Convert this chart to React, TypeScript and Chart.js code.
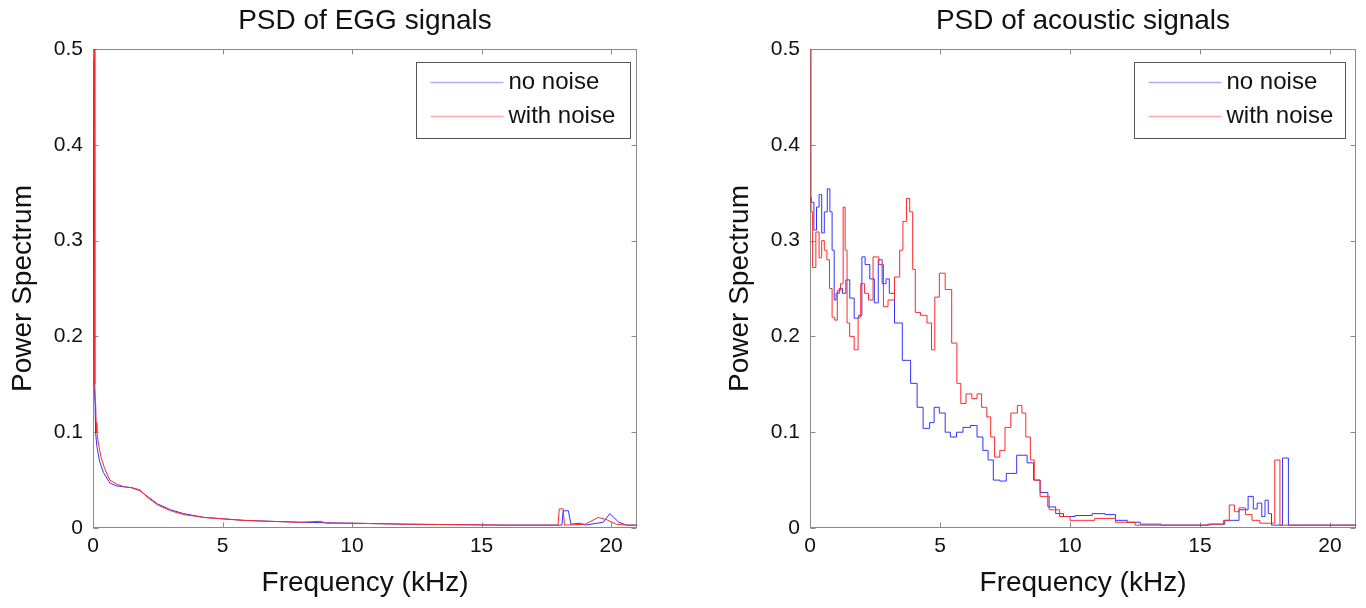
import React, { useEffect, useRef } from 'react';
import { Chart, registerables } from 'chart.js';

Chart.register(...registerables);

const FONT = '"Liberation Sans", Arial, Helvetica, sans-serif';

const xTicks = [0, 5, 10, 15, 20];
const yTicks = [0, 0.1, 0.2, 0.3, 0.4, 0.5];
const seriesLabels = ['no noise', 'with noise'];
const chartTitles = ['PSD of EGG signals', 'PSD of acoustic signals'];
const xTitle = 'Frequency (kHz)';
const yTitle = 'Power Spectrum';

// EGG signals — no noise
const eggFreqClean = [0, 0.03, 0.04, 0.08, 0.1, 0.15, 0.25, 0.4, 0.65, 0.9, 1.2, 1.5, 1.8, 2.1, 2.5, 3.0, 3.5, 4.3, 4.8, 5.8, 6.8, 8, 9, 10, 12, 14, 16, 18.1, 18.15, 18.35, 18.45, 18.8, 19.0, 19.7, 19.95, 20.3, 20.6, 21];
const eggClean = [0.49, 0.49, 0.15, 0.13, 0.1, 0.085, 0.07, 0.058, 0.047, 0.044, 0.043, 0.042, 0.039, 0.033, 0.025, 0.019, 0.015, 0.011, 0.01, 0.008, 0.007, 0.006, 0.0055, 0.005, 0.004, 0.0035, 0.003, 0.003, 0.018, 0.018, 0.004, 0.005, 0.003, 0.006, 0.015, 0.006, 0.003, 0.003];
// EGG signals — with noise
const eggFreqNoisy = [0, 0.06, 0.07, 0.12, 0.15, 0.2, 0.3, 0.45, 0.65, 0.9, 1.2, 1.5, 1.8, 2.1, 2.5, 3.0, 3.5, 4.3, 4.8, 5.8, 6.8, 8, 8.8, 9, 10, 12, 14, 16, 17.95, 18.0, 18.15, 18.2, 19.0, 19.5, 19.8, 20.2, 20.6, 21];
const eggNoisy = [0.5, 0.5, 0.15, 0.11, 0.1, 0.09, 0.075, 0.062, 0.05, 0.046, 0.043, 0.042, 0.04, 0.032, 0.024, 0.018, 0.014, 0.011, 0.01, 0.008, 0.007, 0.006, 0.007, 0.005, 0.005, 0.004, 0.0035, 0.003, 0.003, 0.02, 0.02, 0.003, 0.004, 0.011, 0.009, 0.004, 0.003, 0.003];

// Acoustic signals — no noise
const acFreqClean = [0, 0.1, 0.2, 0.3, 0.4, 0.5, 0.6, 0.73, 0.8, 0.9, 0.96, 1.05, 1.2, 1.3, 1.46, 1.6, 1.8, 1.95, 2.04, 2.2, 2.4, 2.55, 2.7, 2.85, 3.0, 3.1, 3.4, 3.7, 4.04, 4.2, 4.5, 4.7, 4.85, 5.1, 5.3, 5.5, 5.77, 6.0, 6.35, 6.5, 6.8, 6.9, 7.2, 7.4, 7.7, 8.2, 8.5, 8.7, 9.0, 9.3, 9.6, 9.9, 10.5, 11.2, 11.5, 12.0, 12.4, 13, 14, 15, 15.6, 16.3, 16.7, 17.0, 17.1, 17.3, 17.45, 17.55, 17.7, 17.8, 18.15, 18.2, 18.35, 18.45, 19, 20, 21];
const acClean = [0.345, 0.34, 0.311, 0.335, 0.348, 0.308, 0.33, 0.354, 0.33, 0.29, 0.238, 0.245, 0.25, 0.245, 0.259, 0.24, 0.219, 0.222, 0.283, 0.275, 0.26, 0.235, 0.28, 0.255, 0.26, 0.245, 0.214, 0.175, 0.151, 0.126, 0.104, 0.11, 0.126, 0.12, 0.1, 0.095, 0.1, 0.105, 0.107, 0.095, 0.081, 0.071, 0.05, 0.049, 0.057, 0.076, 0.068, 0.05, 0.037, 0.022, 0.015, 0.012, 0.013, 0.015, 0.014, 0.008, 0.006, 0.004, 0.003, 0.003, 0.004, 0.008, 0.019, 0.033, 0.02, 0.026, 0.012, 0.029, 0.015, 0.003, 0.003, 0.073, 0.073, 0.003, 0.003, 0.003, 0.003];
// Acoustic signals — with noise
const acFreqNoisy = [0, 0.03, 0.05, 0.15, 0.3, 0.4, 0.5, 0.6, 0.7, 0.8, 0.9, 1.0, 1.1, 1.25, 1.3, 1.4, 1.45, 1.6, 1.8, 1.9, 2.0, 2.2, 2.3, 2.55, 2.75, 2.9, 3.1, 3.4, 3.5, 3.65, 3.77, 3.9, 4.0, 4.1, 4.4, 4.6, 4.75, 4.85, 5.1, 5.3, 5.6, 5.7, 5.9, 6.1, 6.35, 6.5, 6.7, 6.9, 7.0, 7.2, 7.4, 7.6, 7.85, 8.1, 8.2, 8.4, 8.55, 8.7, 9.0, 9.4, 9.8, 10.2, 10.7, 11.2, 11.5, 12.0, 13, 15, 15.8, 16.0, 16.25, 16.4, 16.6, 16.9, 17.1, 17.5, 17.85, 17.9, 18.05, 18.1, 19, 20, 21];
const acNoisy = [0.5, 0.5, 0.33, 0.272, 0.309, 0.282, 0.3, 0.29, 0.28, 0.25, 0.22, 0.217, 0.248, 0.255, 0.335, 0.29, 0.214, 0.2, 0.186, 0.22, 0.255, 0.245, 0.238, 0.283, 0.275, 0.231, 0.238, 0.262, 0.29, 0.32, 0.344, 0.33, 0.27, 0.225, 0.222, 0.214, 0.186, 0.241, 0.266, 0.249, 0.193, 0.151, 0.13, 0.14, 0.135, 0.14, 0.126, 0.116, 0.095, 0.074, 0.081, 0.105, 0.12, 0.128, 0.12, 0.095, 0.071, 0.05, 0.033, 0.019, 0.012, 0.008, 0.008, 0.01, 0.01, 0.006, 0.003, 0.003, 0.004, 0.008, 0.024, 0.017, 0.021, 0.014, 0.008, 0.005, 0.005, 0.071, 0.071, 0.003, 0.003, 0.003, 0.003];

const BLUE = 'rgb(50,50,255)';
const RED = 'rgb(255,40,40)';
const LEG_BLUE = 'rgba(50,50,255,0.4)';
const LEG_RED = 'rgba(255,40,40,0.4)';

const matlabAxes = {
  id: 'matlabAxes',
  beforeDatasetsDraw(chart: any) {
    const { ctx, chartArea: a, scales } = chart;
    const L = Math.round(a.left) + 0.5;
    const R = Math.round(a.right) - 0.5;
    const T = Math.round(a.top) + 0.5;
    const B = Math.round(a.bottom) - 0.5;
    ctx.save();
    ctx.strokeStyle = '#8a8a8a';
    ctx.lineWidth = 1;
    ctx.strokeRect(L, T, R - L, B - T);
    ctx.beginPath();
    const tl = 5;
    scales.x.ticks.forEach((t: any) => {
      const px = Math.round(scales.x.getPixelForValue(t.value)) + 0.5;
      ctx.moveTo(px, B); ctx.lineTo(px, B - tl);
      ctx.moveTo(px, T); ctx.lineTo(px, T + tl);
    });
    scales.y.ticks.forEach((t: any) => {
      const py = Math.round(scales.y.getPixelForValue(t.value)) + 0.5;
      ctx.moveTo(L, py); ctx.lineTo(L + tl, py);
      ctx.moveTo(R, py); ctx.lineTo(R - tl, py);
    });
    ctx.stroke();
    ctx.restore();
  },
};

const boxLegend = {
  id: 'boxLegend',
  afterDraw(chart: any, _args: any, opts: any) {
    const { ctx, chartArea: a } = chart;
    const w = opts.width || 212;
    const h = 76;
    const x0 = Math.round(a.right - (opts.marginRight || 9) - w) + 0.5;
    const y0 = Math.round(a.top + 13) + 0.5;
    ctx.save();
    ctx.fillStyle = '#ffffff';
    ctx.fillRect(x0, y0, w, h);
    ctx.strokeStyle = '#555';
    ctx.lineWidth = 1;
    ctx.strokeRect(x0, y0, w, h);
    ctx.font = `24px ${FONT}`;
    ctx.textBaseline = 'middle';
    ctx.textAlign = 'left';
    chart.data.datasets.forEach((ds: any, i: number) => {
      const ry = y0 + 20 + i * 34;
      ctx.strokeStyle = ds.legendColor;
      ctx.lineWidth = 1.5;
      ctx.beginPath();
      ctx.moveTo(x0 + 14, ry);
      ctx.lineTo(x0 + 87, ry);
      ctx.stroke();
      ctx.fillStyle = '#111';
      ctx.fillText(ds.label, x0 + 92, ry);
    });
    ctx.restore();
  },
};

type Props = {
  left: number;
  width: number;
  padRight: number;
  title: string;
  cleanF: number[];
  cleanV: number[];
  noisyF: number[];
  noisyV: number[];
  legendWidth: number;
  legendMargin: number;
  stepped: any;
};

function PsdChart(p: Props) {
  const ref = useRef<HTMLCanvasElement>(null);
  useEffect(() => {
    const canvas = ref.current;
    if (!canvas) return;
    const tickFont = { family: FONT, size: 21 };
    const titleFont = { family: FONT, size: 28, weight: 'normal' as const };
    const chart = new Chart(canvas, {
      type: 'line',
      data: {
        datasets: [
          {
            label: seriesLabels[0],
            data: p.cleanF.map((f, i) => ({ x: f, y: p.cleanV[i] })),
            borderColor: BLUE,
            borderWidth: 1,
            pointRadius: 0,
            tension: 0,
            stepped: p.stepped,
            order: 1,
            legendColor: LEG_BLUE,
          } as any,
          {
            label: seriesLabels[1],
            data: p.noisyF.map((f, i) => ({ x: f, y: p.noisyV[i] })),
            borderColor: RED,
            borderWidth: 1,
            pointRadius: 0,
            tension: 0,
            stepped: p.stepped,
            order: 0,
            legendColor: LEG_RED,
          } as any,
        ],
      },
      options: {
        responsive: false,
        animation: false,
        devicePixelRatio: 1,
        layout: { padding: { left: 0, top: 0, bottom: 0, right: p.padRight } },
        plugins: {
          legend: { display: false },
          tooltip: { enabled: false },
          title: {
            display: true,
            text: p.title,
            font: titleFont,
            color: '#111',
            fullSize: false,
            padding: { top: 4, bottom: 11.4 },
          },
          boxLegend: { width: p.legendWidth, marginRight: p.legendMargin },
        } as any,
        scales: {
          x: {
            type: 'linear',
            min: 0,
            max: 21,
            afterBuildTicks: (s: any) => { s.ticks = xTicks.map((v) => ({ value: v })); },
            afterFit: (s: any) => { s.height = 80; },
            ticks: {
              font: tickFont,
              color: '#111',
              padding: 6,
              maxRotation: 0,
              autoSkip: false,
              callback: (v: any) => String(v),
            },
            grid: { display: false, drawTicks: false },
            border: { display: false },
            title: {
              display: true,
              text: xTitle,
              font: titleFont,
              color: '#111',
              padding: { top: 0, bottom: 8 },
            },
          },
          y: {
            type: 'linear',
            min: 0,
            max: 0.5,
            afterBuildTicks: (s: any) => { s.ticks = yTicks.map((v) => ({ value: v })); },
            afterFit: (s: any) => { s.width = 93; },
            ticks: {
              font: tickFont,
              color: '#111',
              padding: 10,
              autoSkip: false,
              callback: (v: any) => String(v),
            },
            grid: { display: false, drawTicks: false },
            border: { display: false },
            title: {
              display: true,
              text: yTitle,
              font: titleFont,
              color: '#111',
              padding: { top: 6, bottom: 0 },
            },
          },
        },
      },
      plugins: [matlabAxes, boxLegend],
    });
    return () => chart.destroy();
  }, []);
  return (
    <canvas
      ref={ref}
      width={p.width}
      height={608}
      style={{ position: 'absolute', left: p.left, top: 0, width: p.width, height: 608 }}
    />
  );
}

export default function App() {
  return (
    <div style={{ position: 'fixed', left: 0, top: 0, width: 1366, height: 608, background: '#fff', overflow: 'hidden' }}>
      <PsdChart
        left={0}
        width={717}
        padRight={80}
        title={chartTitles[0]}
        cleanF={eggFreqClean}
        cleanV={eggClean}
        noisyF={eggFreqNoisy}
        noisyV={eggNoisy}
        legendWidth={214}
        legendMargin={7}
        stepped={false}
      />
      <PsdChart
        left={717}
        width={649}
        padRight={10}
        title={chartTitles[1]}
        cleanF={acFreqClean}
        cleanV={acClean}
        noisyF={acFreqNoisy}
        noisyV={acNoisy}
        legendWidth={211}
        legendMargin={11}
        stepped={'middle'}
      />
    </div>
  );
}
